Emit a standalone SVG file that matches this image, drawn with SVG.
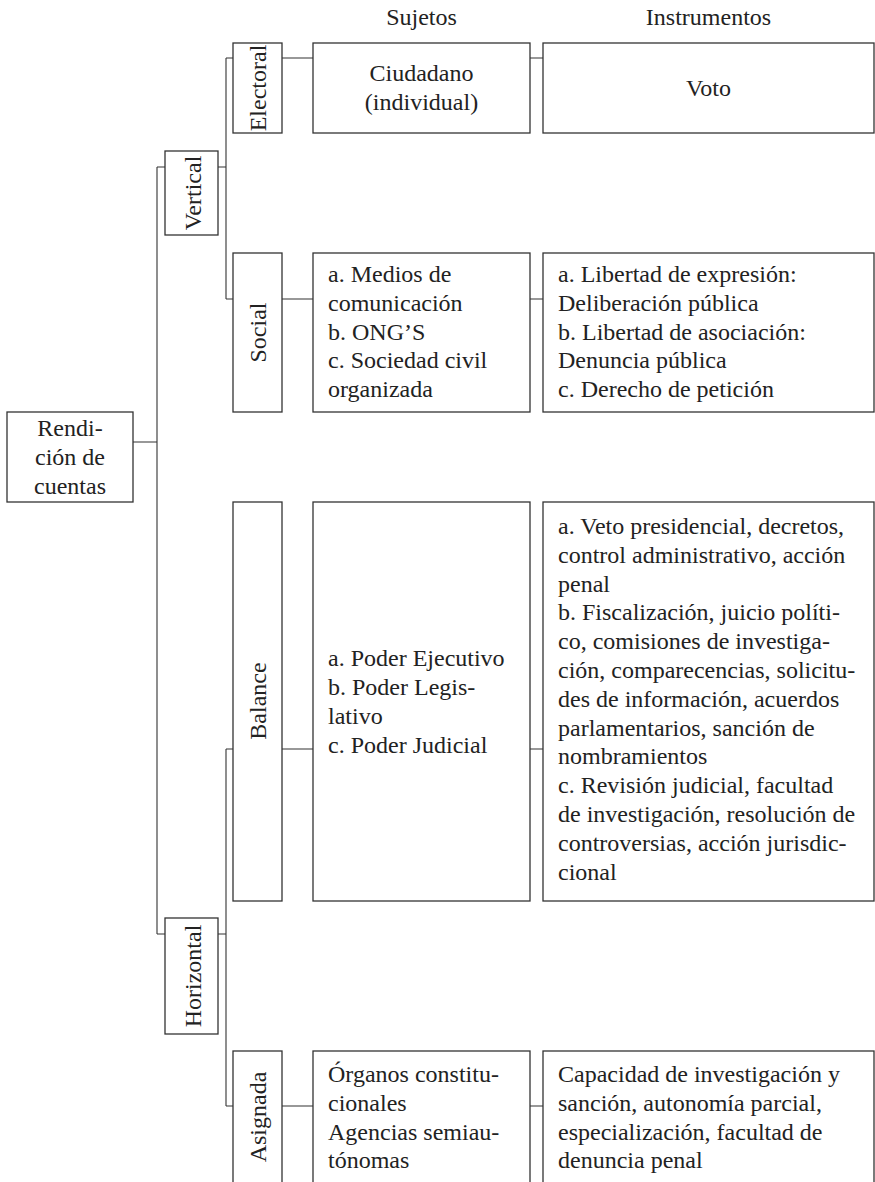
<svg xmlns="http://www.w3.org/2000/svg" width="875" height="1182" viewBox="0 0 875 1182" font-family="'Liberation Serif', 'Times New Roman', Tinos, 'DejaVu Serif', serif">
<style>
.box{fill:#fff;stroke:#333;stroke-width:1.3}
.ln{fill:none;stroke:#333;stroke-width:1.1}
text{font-size:24px;fill:#222}
.c{text-anchor:middle}
</style>
<rect width="875" height="1182" fill="#fff"/>
<g id="headers">
<text class="c" x="421.5" y="25">Sujetos</text>
<text class="c" x="708.5" y="25">Instrumentos</text>
</g>
<g id="connectors">
<path class="ln" d="M133 442H157M157 167V934M157 167H165M157 934H165"/>
<path class="ln" d="M218 167H226M226 58V299M226 58H233M226 299H233"/>
<path class="ln" d="M218 934H226M226 749V1106M226 749H233M226 1106H233"/>
<path class="ln" d="M282 58H313M530 58H543"/>
<path class="ln" d="M282 299H313M530 299H543"/>
<path class="ln" d="M282 749H313M530 749H543"/>
<path class="ln" d="M282 1106H313M530 1106H543"/>
</g>
<g id="root">
<rect class="box" x="7" y="412" width="126" height="90"/>
<text class="c" x="70" y="436">Rendi-</text>
<text class="c" x="70" y="465">ción de</text>
<text class="c" x="70" y="494">cuentas</text>
</g>
<g id="vertical">
<rect class="box" x="165" y="151" width="53" height="84"/>
<text class="c" transform="translate(201 193) rotate(-90)">Vertical</text>
</g>
<g id="horizontal">
<rect class="box" x="165" y="918" width="53" height="116"/>
<text class="c" transform="translate(201 976) rotate(-90)">Horizontal</text>
</g>
<g id="electoral">
<rect class="box" x="233" y="43" width="49" height="90"/>
<text class="c" transform="translate(266 88) rotate(-90)">Electoral</text>
</g>
<g id="social">
<rect class="box" x="233" y="253" width="49" height="159"/>
<text class="c" transform="translate(266 332.5) rotate(-90)">Social</text>
</g>
<g id="balance">
<rect class="box" x="233" y="502" width="49" height="399"/>
<text class="c" transform="translate(266 701) rotate(-90)">Balance</text>
</g>
<g id="asignada">
<rect class="box" x="233" y="1051" width="49" height="135"/>
<text class="c" transform="translate(266 1117) rotate(-90)">Asignada</text>
</g>
<g id="suj-electoral">
<rect class="box" x="313" y="43" width="217" height="90"/>
<text class="c" x="421.5" y="81">Ciudadano</text>
<text class="c" x="421.5" y="110">(individual)</text>
</g>
<g id="ins-electoral">
<rect class="box" x="543" y="43" width="331" height="90"/>
<text class="c" x="708.5" y="96">Voto</text>
</g>
<g id="suj-social">
<rect class="box" x="313" y="253" width="217" height="159"/>
<text x="328" y="282">a. Medios de</text>
<text x="328" y="310.8">comunicación</text>
<text x="328" y="339.6">b. ONG’S</text>
<text x="328" y="368.4">c. Sociedad civil</text>
<text x="328" y="397.2">organizada</text>
</g>
<g id="ins-social">
<rect class="box" x="543" y="253" width="331" height="159"/>
<text x="558" y="282">a. Libertad de expresión:</text>
<text x="558" y="310.8">Deliberación pública</text>
<text x="558" y="339.6">b. Libertad de asociación:</text>
<text x="558" y="368.4">Denuncia pública</text>
<text x="558" y="397.2">c. Derecho de petición</text>
</g>
<g id="suj-balance">
<rect class="box" x="313" y="502" width="217" height="399"/>
<text x="328" y="666">a. Poder Ejecutivo</text>
<text x="328" y="695">b. Poder Legis-</text>
<text x="328" y="724">lativo</text>
<text x="328" y="753">c. Poder Judicial</text>
</g>
<g id="ins-balance">
<rect class="box" x="543" y="502" width="331" height="399"/>
<text x="558" y="534">a. Veto presidencial, decretos,</text>
<text x="558" y="562.8">control administrativo, acción</text>
<text x="558" y="591.6">penal</text>
<text x="558" y="620.4">b. Fiscalización, juicio políti-</text>
<text x="558" y="649.2">co, comisiones de investiga-</text>
<text x="558" y="678">ción, comparecencias, solicitu-</text>
<text x="558" y="706.8">des de información, acuerdos</text>
<text x="558" y="735.6">parlamentarios, sanción de</text>
<text x="558" y="764.4">nombramientos</text>
<text x="558" y="793.2">c. Revisión judicial, facultad</text>
<text x="558" y="822">de investigación, resolución de</text>
<text x="558" y="850.8">controversias, acción jurisdic-</text>
<text x="558" y="879.6">cional</text>
</g>
<g id="suj-asignada">
<rect class="box" x="313" y="1051" width="217" height="135"/>
<text x="328" y="1082">Órganos constitu-</text>
<text x="328" y="1110.8">cionales</text>
<text x="328" y="1139.6">Agencias semiau-</text>
<text x="328" y="1168.4">tónomas</text>
</g>
<g id="ins-asignada">
<rect class="box" x="543" y="1051" width="331" height="135"/>
<text x="558" y="1082">Capacidad de investigación y</text>
<text x="558" y="1110.8">sanción, autonomía parcial,</text>
<text x="558" y="1139.6">especialización, facultad de</text>
<text x="558" y="1168.4">denuncia penal</text>
</g>
</svg>
